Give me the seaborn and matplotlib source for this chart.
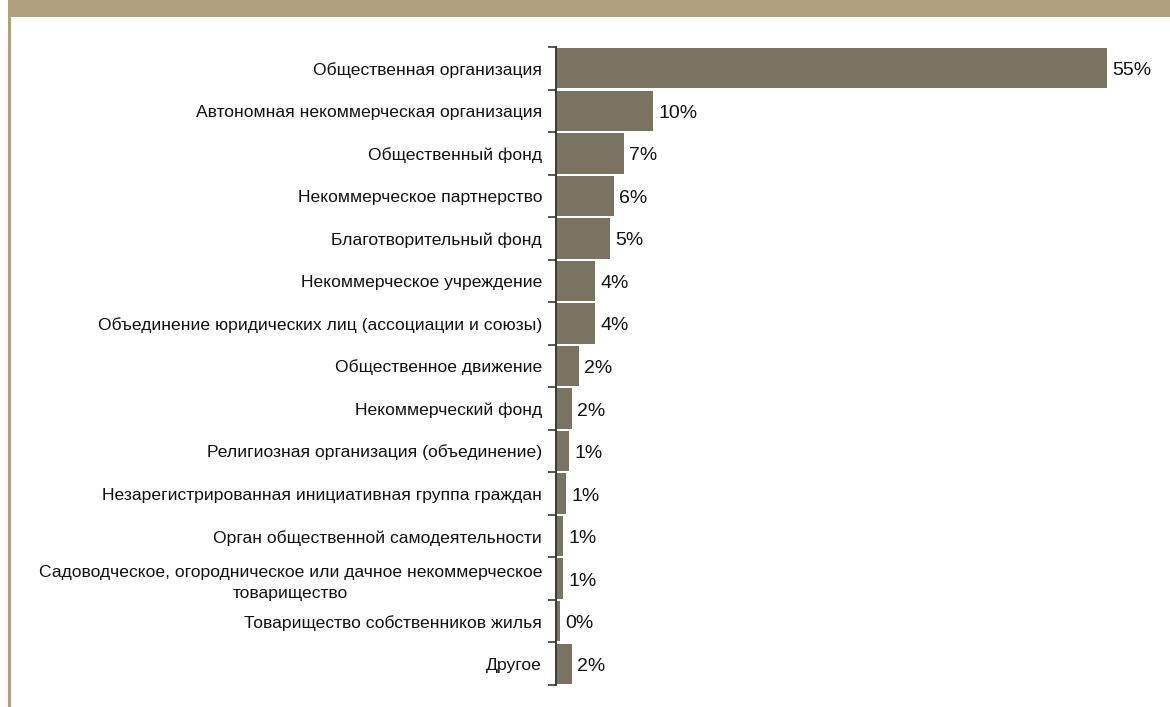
import matplotlib
matplotlib.use("Agg")
import matplotlib.pyplot as plt
from matplotlib.patches import Rectangle
from matplotlib.lines import Line2D
import matplotlib.transforms as mtransforms
import seaborn as sns
import pandas as pd
import numpy as np

categories = [
    "Общественная организация",
    "Автономная некоммерческая организация",
    "Общественный фонд",
    "Некоммерческое партнерство",
    "Благотворительный фонд",
    "Некоммерческое учреждение",
    "Объединение юридических лиц (ассоциации и союзы)",
    "Общественное движение",
    "Некоммерческий фонд",
    "Религиозная организация (объединение)",
    "Незарегистрированная инициативная группа граждан",
    "Орган общественной самодеятельности",
    "Садоводческое, огородническое или дачное некоммерческое\nтоварищество",
    "Товарищество собственников жилья",
    "Другое",
]
shares = [55.0, 9.7, 6.8, 5.8, 5.4, 3.9, 3.9, 2.3, 1.6, 1.3, 1.0, 0.7, 0.7, 0.4, 1.6]

df = pd.DataFrame({"category": categories, "share": shares})

sns.set_theme(style="white")
plt.rcParams["font.family"] = ["Liberation Sans", "DejaVu Sans"]

W, H = 1170, 707
fig = plt.figure(figsize=(W / 100, H / 100), dpi=100)
fig.patch.set_facecolor("white")

# header band and left frame line
band = "#ae9f7f"
fig.add_artist(Rectangle((8 / W, 1 - 17 / H), 1 - 8 / W, 17 / H,
                         transform=fig.transFigure, facecolor=band,
                         edgecolor="none", zorder=0))
fig.add_artist(Line2D([9 / W, 9 / W], [0, 1 - 17 / H],
                      transform=fig.transFigure, color=band, linewidth=2.2))

left, right = 556 / W, 1157 / W
top, bottom = 1 - 47 / H, 1 - 685 / H
ax = fig.add_axes([left, bottom, right - left, top - bottom])

bar_color = "#7a7361"
sns.barplot(data=df, x="share", y="category", ax=ax, color=bar_color,
            saturation=1, width=0.95, orient="h")
for p in ax.patches:
    p.set_edgecolor("none")

ax.set_xlim(0, 60)
ax.set_ylim(len(categories) - 0.5, -0.5)
ax.set_xlabel("")
ax.set_ylabel("")
ax.set_xticks([])

for s in ["top", "right", "bottom"]:
    ax.spines[s].set_visible(False)
ax.spines["left"].set_color("#3a3a3a")
ax.spines["left"].set_linewidth(1.4)

ax.set_yticks(range(len(categories)))
ax.set_yticklabels(categories, fontsize=12.6, color="#111111",
                   multialignment="center", linespacing=1.5)
ax.tick_params(axis="y", which="major", length=0, pad=10)
ax.set_yticks(np.arange(-0.5, len(categories), 1.0), minor=True)
ax.tick_params(axis="y", which="minor", length=6, width=1.2,
               color="#3a3a3a", left=True)

# value labels, nudged slightly down so the digits sit on the bar's centre
nudge = mtransforms.offset_copy(ax.transData, fig=fig, x=0, y=-2.5, units="dots")
for i, v in enumerate(shares):
    ax.text(v + 0.5, i, f"{v:.0f}%", va="center", ha="left",
            fontsize=14, color="#111111", transform=nudge)

fig.savefig("out.png", dpi=100, facecolor="white")
